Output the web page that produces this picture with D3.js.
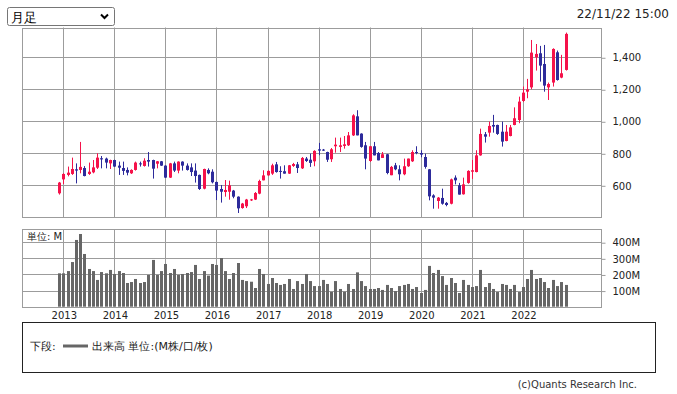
<!DOCTYPE html>
<html lang="ja">
<head>
<meta charset="utf-8">
<script src="https://cdnjs.cloudflare.com/ajax/libs/d3/7.8.5/d3.min.js"></script>
<style>
  body { margin: 0; background: #fff; }
  svg text { font-family: "DejaVu Sans", sans-serif; }
</style>
</head>
<body>
<svg id="chart" width="677" height="394"></svg>
<script>
// ---- data (monthly, Dec 2012 .. Nov 2022) ----
var years = [2013, 2014, 2015, 2016, 2017, 2018, 2019, 2020, 2021, 2022]
var priceTicks = [600, 800, 1000, 1200, 1400]
var volTicks = [100, 200, 300, 400]

var open = [550, 637, 665, 671, 700, 696, 708, 671, 681, 710,
  769, 767, 737, 758, 723, 708, 696, 675, 696, 737,
  721, 758, 758, 735, 750, 723, 648, 737, 692, 748,
  723, 712, 692, 665, 579, 696, 685, 621, 577, 558,
  560, 567, 529, 458, 469, 506, 511, 548, 631, 662,
  673, 731, 690, 688, 673, 721, 731, 706, 767, 760,
  750, 825, 823, 808, 763, 844, 840, 846, 850, 912,
  1031, 923, 850, 752, 844, 802, 771, 794, 663, 725,
  700, 669, 719, 750, 808, 802, 777, 700, 537, 502,
  521, 490, 485, 648, 600, 544, 615, 685, 683, 787,
  919, 929, 977, 977, 935, 877, 908, 977, 1008, 1127,
  1185, 1212, 1400, 1425, 1358, 1212, 1242, 1431, 1273, 1321]

var close = [617, 671, 679, 702, 692, 715, 658, 685, 712, 773,
  762, 742, 758, 717, 710, 690, 679, 696, 742, 731,
  754, 748, 704, 750, 723, 648, 737, 692, 748, 723,
  696, 683, 658, 577, 702, 675, 619, 567, 560, 571,
  600, 529, 456, 486, 511, 512, 552, 627, 662, 690,
  725, 683, 686, 673, 725, 733, 708, 771, 752, 740,
  815, 817, 819, 760, 825, 854, 850, 856, 912, 1037,
  912, 840, 767, 844, 787, 756, 794, 677, 715, 700,
  669, 719, 767, 808, 802, 792, 715, 531, 523, 523,
  485, 477, 637, 631, 542, 606, 690, 694, 787, 921,
  904, 971, 967, 921, 873, 935, 962, 1019, 1123, 1179,
  1200, 1429, 1421, 1348, 1223, 1233, 1452, 1258, 1300, 1546]

var high = [621, 675, 717, 773, 737, 871, 720, 742, 758, 800,
  783, 773, 760, 760, 748, 748, 712, 700, 748, 748,
  769, 808, 760, 752, 752, 725, 740, 748, 750, 750,
  737, 737, 737, 667, 704, 706, 700, 623, 602, 633,
  629, 571, 531, 490, 515, 515, 558, 635, 694, 694,
  735, 746, 719, 725, 727, 740, 746, 777, 777, 798,
  819, 865, 827, 810, 833, 898, 898, 908, 933, 1044,
  1069, 925, 871, 846, 871, 808, 808, 796, 721, 740,
  725, 767, 767, 819, 844, 819, 798, 702, 544, 527,
  579, 496, 642, 662, 615, 648, 694, 758, 819, 954,
  933, 998, 1040, 979, 998, 977, 977, 1087, 1154, 1217,
  1265, 1508, 1483, 1471, 1477, 1242, 1456, 1442, 1415, 1554]

var low = [542, 608, 656, 665, 612, 675, 656, 665, 675, 702,
  706, 706, 702, 715, 665, 665, 662, 671, 692, 717,
  717, 717, 642, 706, 721, 646, 646, 683, 675, 692,
  692, 658, 617, 571, 575, 669, 612, 508, 492, 529,
  510, 519, 427, 454, 458, 502, 508, 544, 631, 660,
  665, 679, 642, 673, 671, 715, 677, 702, 746, 715,
  719, 788, 815, 746, 746, 804, 808, 829, 846, 908,
  912, 835, 700, 746, 787, 756, 771, 669, 663, 694,
  631, 663, 715, 746, 794, 775, 704, 506, 454, 454,
  479, 469, 481, 606, 542, 542, 610, 640, 681, 785,
  867, 904, 929, 915, 842, 875, 906, 975, 988, 1120,
  1144, 1200, 1317, 1248, 1185, 1133, 1217, 1254, 1269, 1317]

// volume in millions
var volume = [207, 207, 221, 277, 414, 451, 327, 234, 221, 166,
  215, 207, 228, 203, 221, 209, 147, 153, 172, 147,
  153, 197, 290, 197, 221, 265, 209, 234, 197, 203,
  209, 215, 259, 172, 221, 193, 265, 259, 302, 221,
  172, 209, 271, 166, 159, 155, 116, 234, 203, 141,
  178, 147, 135, 141, 172, 110, 159, 141, 203, 159,
  128, 128, 166, 141, 92, 159, 110, 93, 141, 110,
  213, 159, 128, 110, 110, 116, 104, 135, 116, 97,
  128, 135, 141, 110, 122, 85, 104, 253, 209, 228,
  190, 135, 178, 147, 85, 166, 135, 122, 128, 228,
  122, 147, 110, 91, 141, 135, 110, 135, 91, 122,
  172, 228, 172, 178, 153, 116, 166, 128, 153, 135]

var months = d3.timeMonth.range(new Date(2012, 11, 1), new Date(2022, 11, 1))
var rows = months.map((m, i) => ({date: m, o: open[i], h: high[i], l: low[i], c: close[i], v: volume[i]}))

// ---- layout ----
var upColor = "#f5124a"
var downColor = "#2d2b9b"
var gridColor = "#9c9c9c"
var left = 22, right = 601
var main = {top: 27.5, bottom: 217}
var vol = {top: 229, bottom: 306.7}
var candleW = 3

var svg = d3.select("#chart")
svg.append("rect").attr("width", 677).attr("height", 394).attr("fill", "#fff")

var x = d3.scaleTime()
  .domain([new Date(2013, 0, 1), new Date(2022, 0, 1)])
  .range([63.3, 523])
var y = d3.scaleLinear().domain([402, 1586]).range([main.bottom, main.top])
var yv = d3.scaleLinear().domain([0, 482]).range([vol.bottom, vol.top])
var yearDates = years.map(yr => new Date(yr, 0, 1))

function drawPanel(top, bottom, scale, ticks, fmt) {
  var g = svg.append("g")
  // horizontal grid
  g.selectAll(".hg").data(ticks).join("line")
    .attr("x1", left).attr("x2", right)
    .attr("y1", d => Math.round(scale(d)) + 0.5).attr("y2", d => Math.round(scale(d)) + 0.5)
    .attr("stroke", gridColor)
  // vertical grid at january
  g.selectAll(".vg").data(yearDates).join("line")
    .attr("x1", d => Math.round(x(d)) + 0.5).attr("x2", d => Math.round(x(d)) + 0.5)
    .attr("y1", top).attr("y2", bottom)
    .attr("stroke", gridColor)
  g.append("rect")
    .attr("x", left + 0.5).attr("y", Math.round(top) + 0.5)
    .attr("width", right - left).attr("height", Math.round(bottom) - Math.round(top))
    .attr("fill", "none").attr("stroke", gridColor)
  // right axis
  var ax = svg.append("g")
    .attr("transform", `translate(${right + 0.5},0.5)`)
    .call(d3.axisRight(scale).tickValues(ticks).tickSize(4).tickPadding(7).tickFormat(fmt))
  ax.select(".domain").remove()
  ax.selectAll(".tick line").attr("stroke", gridColor)
  ax.selectAll("text").attr("font-size", 10).attr("fill", "#222")
    .attr("font-family", "DejaVu Sans")
}

drawPanel(main.top, main.bottom, y, priceTicks, d3.format(","))
drawPanel(vol.top, vol.bottom, yv, volTicks, d => d + "M")

// candles
var cg = svg.append("g")
cg.selectAll(".wick").data(rows).join("line")
  .attr("x1", d => Math.round(x(d.date)) + 0.5).attr("x2", d => Math.round(x(d.date)) + 0.5)
  .attr("y1", d => y(d.h)).attr("y2", d => y(d.l))
  .attr("stroke", d => d.c >= d.o ? upColor : downColor)
cg.selectAll(".body").data(rows).join("rect")
  .attr("x", d => Math.round(x(d.date)) - 1)
  .attr("width", candleW)
  .attr("y", d => y(Math.max(d.o, d.c)))
  .attr("height", d => Math.max(1, Math.abs(y(d.o) - y(d.c))))
  .attr("fill", d => d.c >= d.o ? upColor : downColor)

// volume bars
svg.append("g").selectAll("rect").data(rows).join("rect")
  .attr("x", d => Math.round(x(d.date)) - 1)
  .attr("width", candleW)
  .attr("y", d => yv(d.v))
  .attr("height", d => yv(0) - yv(d.v))
  .attr("fill", "#666")

svg.append("text").attr("x", 27).attr("y", 240)
  .attr("font-size", 10).attr("fill", "#222")
  .attr("font-family", "Noto Sans CJK JP")
  .text("単位: M")

// year labels
var xa = svg.append("g").attr("transform", "translate(0.5,309)")
  .call(d3.axisBottom(x).tickValues(yearDates).tickSize(0).tickFormat(d3.timeFormat("%Y")))
xa.select(".domain").remove()
xa.selectAll("text").attr("font-size", 10).attr("fill", "#222").attr("font-family", "DejaVu Sans")

// legend box
svg.append("rect").attr("x", 22.5).attr("y", 322.5).attr("width", 633).attr("height", 50)
  .attr("fill", "none").attr("stroke", "#222")
var lg = svg.append("g").attr("font-family", "Noto Sans CJK JP").attr("font-size", 11).attr("fill", "#222")
lg.append("text").attr("x", 30).attr("y", 350).text("下段:")
lg.append("line").attr("x1", 63).attr("x2", 88).attr("y1", 346).attr("y2", 346)
  .attr("stroke", "#666").attr("stroke-width", 3)
lg.append("text").attr("x", 92).attr("y", 350).text("出来高 単位:(M株/口/枚)")

svg.append("text").attr("x", 637).attr("y", 388).attr("text-anchor", "end")
  .attr("font-size", 10).attr("fill", "#333")
  .text("(c)Quants Research Inc.")

// date stamp
svg.append("text").attr("x", 669).attr("y", 18).attr("text-anchor", "end")
  .attr("font-size", 12).attr("fill", "#222")
  .text("22/11/22 15:00")

// period selector
var sel = svg.append("g")
sel.append("rect").attr("x", 7.5).attr("y", 7.5).attr("width", 107).attr("height", 18).attr("rx", 2)
  .attr("fill", "#fff").attr("stroke", "#767676")
sel.append("text").attr("x", 11).attr("y", 22).attr("font-size", 13)
  .attr("font-family", "Noto Sans CJK JP").attr("fill", "#000").text("月足")
sel.append("path").attr("d", "M101,14.5 L104.5,18 L108,14.5")
  .attr("fill", "none").attr("stroke", "#000").attr("stroke-width", 2)
</script>
</body>
</html>
